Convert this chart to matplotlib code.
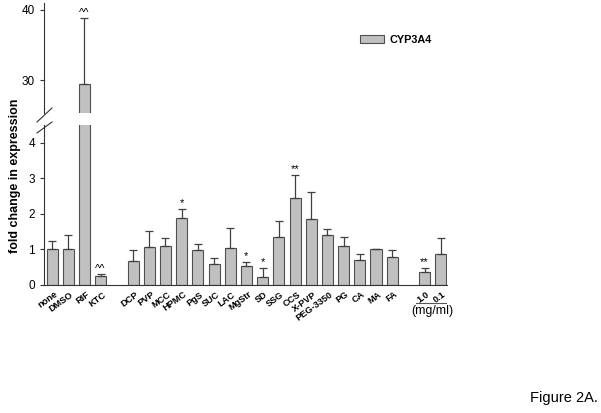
import matplotlib.pyplot as plt
from matplotlib.patches import Patch

plt.rcParams['font.family'] = ['Liberation Sans', 'DejaVu Sans']

labels = ['none', 'DMSO', 'RIF', 'KTC', 'DCP', 'PVP', 'MCC', 'HPMC', 'PgS', 'SUC',
          'LAC', 'MgStr', 'SD', 'SSG', 'CCS', 'X-PVP', 'PEG-3350', 'PG', 'CA', 'MA',
          'FA', '1.0', '0.1']
pos = [0, 1, 2, 3, 5, 6, 7, 8, 9, 10, 11, 12, 13, 14, 15, 16, 17, 18, 19, 20, 21, 23, 24]
means = [1.0, 1.0, 29.4, 0.25, 0.67, 1.07, 1.10, 1.89, 0.98, 0.58, 1.03, 0.53, 0.21,
         1.34, 2.43, 1.85, 1.40, 1.09, 0.69, 1.01, 0.79, 0.37, 0.87]
err_top = [1.23, 1.40, 38.8, 0.30, 0.98, 1.51, 1.31, 2.13, 1.15, 0.75, 1.59, 0.64, 0.47,
           1.81, 3.09, 2.60, 1.58, 1.36, 0.86, 1.01, 0.98, 0.48, 1.31]
marks = ['', '', '^^', '^^', '', '', '', '*', '', '', '', '*', '*', '', '**', '', '', '',
         '', '', '', '**', '']

errs = [t - m for t, m in zip(err_top, means)]
low_err = [0] * len(means)

fig = plt.figure(figsize=(6.01, 4.13), dpi=100)
ax = fig.add_axes([0.0732, 0.310, 0.671, 0.387])
axu = fig.add_axes([0.0732, 0.726, 0.671, 0.267])

bar_kw = dict(width=0.68, color='#c0c0c0', edgecolor='#505050', linewidth=0.8,
              error_kw=dict(ecolor='#404040', elinewidth=0.9, capsize=3, capthick=0.9))
for a in (ax, axu):
    a.bar(pos, means, yerr=[low_err, errs], **bar_kw)
    a.set_xlim(-0.5, 24.4)
    for s in ('top', 'right'):
        a.spines[s].set_visible(False)
    a.spines['left'].set_color('#333333')
    a.tick_params(axis='y', labelsize=8.5, length=3, width=0.8, colors='#333333',
                  labelcolor='black')

ax.set_ylim(0, 4.49)
ax.set_yticks([0, 1, 2, 3, 4])
ax.spines['bottom'].set_color('#333333')
ax.set_xticks([p + 0.1 for p in pos])
ax.set_xticklabels(labels, rotation=36, ha='right', rotation_mode='anchor',
                   fontsize=6.6, fontweight='bold')
ax.tick_params(axis='x', length=0, pad=3.5)

axu.set_ylim(25.3, 41)
axu.set_yticks([30, 40])
axu.spines['bottom'].set_visible(False)
axu.set_xticks([])

# significance marks above error bars
for p, t, m in zip(pos, err_top, marks):
    if not m:
        continue
    a = axu if t > 10 else ax
    a.annotate(m, (p, t), xytext=(0, 0.5), textcoords='offset points',
               ha='center', va='bottom', fontsize=8)

# break marks on the y axis
d = dict(transform=fig.transFigure, color='#333333', lw=0.8, clip_on=False)
fig.add_artist(plt.Line2D([37/601, 52/601], [1-122/413, 1-108/413], **d))
fig.add_artist(plt.Line2D([37/601, 52/601], [1-133/413, 1-122/413], **d))

# concentration bracket
tr = ax.get_xaxis_transform()
ax.plot([22.5, 24.35], [-0.11, -0.11], color='#555555', lw=0.8, transform=tr, clip_on=False)
ax.text(23.45, -0.125, '(mg/ml)', transform=tr, ha='center', va='top', fontsize=8.8)

fig.text(15/601, 1-176/413, 'fold change in expression', rotation=90, ha='center',
         va='center', fontsize=9, fontweight='bold')

fig.legend(handles=[Patch(facecolor='#c0c0c0', edgecolor='#505050', linewidth=0.8)],
           labels=['CYP3A4'], loc='center left', bbox_to_anchor=(350/601, 1-40/413),
           frameon=False, prop=dict(size=7.8, weight='bold'),
           handlelength=2.2, handleheight=0.8, handletextpad=0.5)

fig.text(598/601, 1-398/413, 'Figure 2A.', ha='right', va='center', fontsize=10.5)

fig.savefig('out.png', dpi=100)
